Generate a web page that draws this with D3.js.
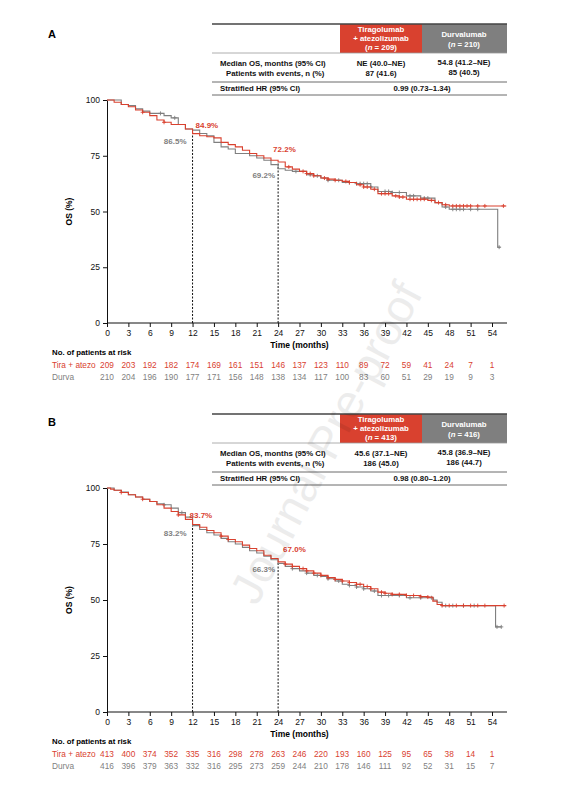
<!DOCTYPE html>
<html><head><meta charset="utf-8">
<script src="https://cdn.jsdelivr.net/npm/d3@7"></script>
<style>body{margin:0;background:#fff}text{font-family:"Liberation Sans",Arial,sans-serif}</style>
</head><body><svg id="c" width="566" height="800"></svg>
<script>
const RED="#d9412f", GRAY="#7f7f7f";
const ticks=d3.range(0,55,3);
// Panel A
const aTira=[[0,100],[1,99],[2,98],[3,97],[4,95.5],[5,94.5],[6,93],[7,91],[8,90],[9,89],[11,87],[12,84.9],[13,84],[14,83.5],[15,83],[16,81],[17,80],[18,79],[19,77.5],[20,76],[21,75],[22,74],[23,73],[24,72.2],[25,70],[26,69],[27,68],[28,67],[29,66],[30,65],[31,64.5],[32,64],[33,63.5],[34,63],[35,62],[36,61],[37,60],[38,58],[40,57],[41,56.5],[42,55.5],[45,55],[46,54],[47,53],[48,52.5],[56,52.5]];
const aDurva=[[0,100],[2,98],[3,97.5],[4,96],[5,95],[6,94],[8,93],[9,92],[10,89],[11,87],[12,86.5],[13,85],[14,84],[15,81],[16,79],[17,78],[18,76],[20,75],[21,74],[22,73],[23,71],[24,69.2],[25,68.5],[26,68],[28,66.5],[29,66],[30,65],[31,64],[33,63],[35,62.5],[37,61],[38,59],[40,58.5],[42,57],[44,56],[46,54],[47,52],[48,51],[54.8,51],[54.8,34],[55.2,34]];
const aTiraCens=[5,8,25.5,27.5,28,28.5,29,30.5,31,32,33.5,34,35.5,36,36.5,37.5,38.5,39,39.5,40.5,41,41.5,42.5,43,43.5,44,44.5,45.5,46.5,47.5,48.5,49,49.5,50,50.5,51,52,53,55.6];
const aDurvaCens=[7.5,9.5,26.5,28.5,29.5,31,32.5,34,35,35.5,36,36.5,37,39,39.5,40,41,42.5,43,44.5,45,47.5,48.5,49,49.5,50,51,52,55];
const aRiskTira=[209,203,192,182,174,169,161,151,146,137,123,110,89,72,59,41,24,7,1];
const aRiskDurva=[210,204,196,190,177,171,156,148,138,134,117,100,83,60,51,29,19,9,3];
// Panel B
const bTira=[[0,100],[0.5,99.5],[1,99],[2,98],[3,97],[4,96],[5,95],[6,94],[7,92.5],[8,91],[9,89.5],[10,88],[11,86],[12,83.7],[13,82.5],[14,81],[15,80],[16,78.5],[17,77],[18,76],[19,74.5],[20,73],[21,72],[22,70],[23,68.5],[24,67],[25,66],[26,65],[27,64],[28,63],[29,62],[30,61],[31,60],[32,59.2],[33,58.5],[34,57.8],[35,57],[36,56],[37,55],[38,53.5],[39,53],[40,52.5],[42,52],[44,51.5],[45,51.3],[45.7,49.5],[46.3,48],[47,47.5],[56,47.5]];
const bDurva=[[0,100],[1,99],[2,98.2],[3,97],[4,96],[5,95],[6,94],[7,93],[8,92.5],[9,91],[10,89],[11,87],[12,83.2],[13,81.5],[14,80],[15,79],[16,77.5],[17,76],[18,75],[19,73.5],[20,72],[21,71],[22,69.5],[23,68],[24,66.3],[25,65],[26,64],[27,63],[28,62],[29,61],[30,60.5],[31,59.5],[32,58.5],[33,57],[34,56.5],[35,55.8],[36,55],[37,54],[38,52],[40,52],[42,51],[45,51],[45.8,50],[46.3,49],[47,47.5],[54.5,47.5],[54.5,38],[55.3,38]];
const bTiraCens=[2,5,10,16,17,25,26,27.5,28,29,30,31,32,33,34,35,35.5,36.5,37,38.5,39,40,41,42,43,44,45,47,48,49,50,51,52,53,55.7];
const bDurvaCens=[8,10.5,26,28,29.5,31,32.5,34,35,36,37.5,38.5,39.5,41,42.5,44,45.5,47.5,48.5,50,51.5,54.7,55.3];
const bRiskTira=[413,400,374,352,335,316,298,278,263,246,220,193,160,125,95,65,38,14,1];
const bRiskDurva=[416,396,379,363,332,316,295,273,259,244,210,178,146,111,92,52,31,15,7];

const svg=d3.select("#c");
const x=d3.scaleLinear().domain([0,54]).range([107,492]);

function val(curve,t){let v=curve[0][1];for(const p of curve){if(p[0]<=t)v=p[1];}return v;}

function table(y0,n1,n2,med1,med2,ev1,ev2,hr){
  const g=svg.append("g");
  g.append("rect").attr("x",340).attr("y",y0).attr("width",82).attr("height",29).attr("fill",RED);
  g.append("rect").attr("x",422).attr("y",y0).attr("width",85).attr("height",29).attr("fill",GRAY);
  [y0,y0+29,y0+58,y0+71].forEach((yy,i)=>g.append("line").attr("x1",212).attr("x2",507).attr("y1",yy).attr("y2",yy).attr("stroke",i==1?"#999":"#444").attr("stroke-width",i==0?1.5:0.8));
  const t=(xx,yy,s,opt={})=>g.append("text").attr("x",xx).attr("y",yy).attr("font-size",opt.fs||7.8).attr("font-weight","bold").attr("fill",opt.fill||"#111").attr("text-anchor",opt.a||"middle").text(s);
  t(381,y0+8,"Tiragolumab",{fill:"#fff"});t(381,y0+17,"+ atezolizumab",{fill:"#fff"});
  const r=g.append("text").attr("x",381).attr("y",y0+26).attr("font-size",7.8).attr("font-weight","bold").attr("fill","#fff").attr("text-anchor","middle");
  r.append("tspan").text("(");r.append("tspan").attr("font-style","italic").text("n");r.append("tspan").text(" = "+n1+")");
  t(464,y0+13,"Durvalumab",{fill:"#fff"});
  const r2=g.append("text").attr("x",464).attr("y",y0+23).attr("font-size",7.8).attr("font-weight","bold").attr("fill","#fff").attr("text-anchor","middle");
  r2.append("tspan").text("(");r2.append("tspan").attr("font-style","italic").text("n");r2.append("tspan").text(" = "+n2+")");
  t(220,y0+42,"Median OS, months (95% CI)",{a:"start"});
  t(226,y0+52,"Patients with events, n (%)",{a:"start"});
  t(381,y0+42,med1);t(464,y0+41,med2);t(381,y0+52,ev1);t(464,y0+51,ev2);
  t(220,y0+67,"Stratified HR (95% CI)",{a:"start"});t(422,y0+67,hr);
}

function panel(letter,yTop,yBot,tira,durva,tc,dc,rt,rd,lab){
  const y=d3.scaleLinear().domain([0,100]).range([yBot,yTop]);
  svg.append("text").attr("x",48).attr("y",yTop-62).attr("font-size",11).attr("font-weight","bold").text(letter);
  const ya=svg.append("g").attr("transform",`translate(107,0)`).call(d3.axisLeft(y).tickValues([0,25,50,75,100]).tickSize(4));
  const xa=svg.append("g").attr("transform",`translate(0,${yBot})`).call(d3.axisBottom(x).tickValues(ticks).tickSize(4));
  xa.select(".domain").attr("d",`M107,0H507`);
  [ya,xa].forEach(a=>{a.selectAll("text").attr("font-size",8.5).attr("fill","#111");a.selectAll("line,path").attr("stroke","#111");});
  svg.append("text").attr("transform",`translate(72,${(yTop+yBot)/2}) rotate(-90)`).attr("text-anchor","middle").attr("font-size",8.5).attr("font-weight","bold").text("OS (%)");
  svg.append("text").attr("x",x(27)).attr("y",yBot+25).attr("text-anchor","middle").attr("font-size",8.5).attr("font-weight","bold").text("Time (months)");
  [12,24].forEach(t=>svg.append("line").attr("x1",x(t)).attr("x2",x(t)).attr("y1",yBot).attr("y2",y(Math.max(val(tira,t),val(durva,t)))).attr("stroke","#111").attr("stroke-dasharray","2,1.5").attr("stroke-width",1));
  const line=d3.line().x(d=>x(d[0])).y(d=>y(d[1])).curve(d3.curveStepAfter);
  [[durva,dc,GRAY],[tira,tc,RED]].forEach(([c,cens,col])=>{
    svg.append("path").attr("d",line(c)).attr("fill","none").attr("stroke",col).attr("stroke-width",1.1);
    svg.append("g").selectAll("path").data(cens).join("path")
      .attr("d",t=>`M${x(t)-2},${y(val(c,t))}h4M${x(t)},${y(val(c,t))-2}v4`).attr("stroke",col).attr("stroke-width",0.9);
  });
  lab.forEach(l=>svg.append("text").attr("x",x(l.t)+l.dx).attr("y",y(l.v)+l.dy).attr("text-anchor",l.a).attr("font-size",8).attr("font-weight","bold").attr("fill",l.c).text(l.s));
  const ry=yBot+32;
  svg.append("text").attr("x",52).attr("y",ry).attr("font-size",7.8).attr("font-weight","bold").text("No. of patients at risk");
  svg.append("text").attr("x",52).attr("y",ry+13).attr("font-size",8.3).attr("fill",RED).text("Tira + atezo");
  svg.append("text").attr("x",52).attr("y",ry+25).attr("font-size",8.3).attr("fill",GRAY).text("Durva");
  svg.append("g").selectAll("text").data(rt).join("text").attr("x",(d,i)=>x(ticks[i])).attr("y",ry+13).attr("text-anchor","middle").attr("font-size",8.3).attr("fill",RED).text(d=>d);
  svg.append("g").selectAll("text").data(rd).join("text").attr("x",(d,i)=>x(ticks[i])).attr("y",ry+25).attr("text-anchor","middle").attr("font-size",8.3).attr("fill",GRAY).text(d=>d);
}

table(24,209,210,"NE (40.0–NE)","54.8 (41.2–NE)","87 (41.6)","85 (40.5)","0.99 (0.73–1.34)");
panel("A",100,323,aTira,aDurva,aTiraCens,aDurvaCens,aRiskTira,aRiskDurva,[
 {t:12,v:84.9,dx:3,dy:-6,a:"start",c:RED,s:"84.9%"},{t:12,v:84.9,dx:-6,dy:10,a:"end",c:GRAY,s:"86.5%"},
 {t:24,v:72.2,dx:-5,dy:-10,a:"start",c:RED,s:"72.2%"},{t:24,v:69.2,dx:-3,dy:9,a:"end",c:GRAY,s:"69.2%"}]);
table(414,413,416,"45.6 (37.1–NE)","45.8 (36.9–NE)","186 (45.0)","186 (44.7)","0.98 (0.80–1.20)");
panel("B",488,712,bTira,bDurva,bTiraCens,bDurvaCens,bRiskTira,bRiskDurva,[
 {t:12,v:83.7,dx:-3,dy:-7,a:"start",c:RED,s:"83.7%"},{t:12,v:83.2,dx:-6,dy:10,a:"end",c:GRAY,s:"83.2%"},
 {t:24,v:67,dx:5,dy:-10,a:"start",c:RED,s:"67.0%"},{t:24,v:66.3,dx:-3,dy:9,a:"end",c:GRAY,s:"66.3%"}]);
svg.append("text").attr("transform","translate(340,450) rotate(-62)").attr("text-anchor","middle").attr("font-size",46).attr("fill","#000").attr("opacity",0.07).text("Journal Pre-proof");
</script></body></html>
